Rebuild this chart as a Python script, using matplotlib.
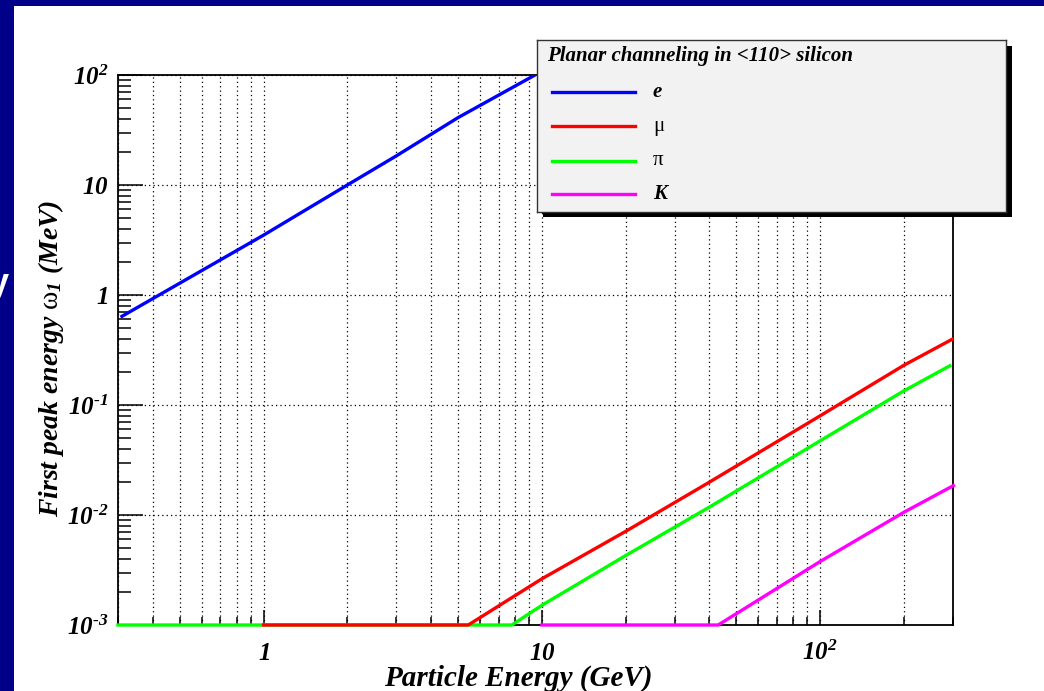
import matplotlib
matplotlib.use("Agg")
import matplotlib.pyplot as plt
import matplotlib.ticker as ticker
from matplotlib.patches import Rectangle

plt.rcParams['mathtext.fontset'] = 'custom'
plt.rcParams['mathtext.rm'] = 'Liberation Serif:bold:italic'
plt.rcParams['mathtext.it'] = 'Liberation Serif:bold:italic'
plt.rcParams['mathtext.bf'] = 'Liberation Serif:bold:italic'
plt.rcParams['mathtext.sf'] = 'Liberation Serif'

# first peak energy (MeV) vs particle energy (GeV), floor values sit at 1e-3
e_energy = [0.31, 1.0, 2.0, 3.0, 5.0, 9.45]
e_peak = [0.64, 3.5, 10.0, 18.4, 41.0, 100.0]

mu_energy = [1.0, 5.44, 10.0, 20.0, 40.0, 100.0, 200.0, 298.0]
mu_peak = [1e-3, 1e-3, 0.00263, 0.0071, 0.0199, 0.0798, 0.230, 0.396]

pi_energy = [0.3, 7.8, 10.0, 20.0, 40.0, 100.0, 200.0, 292.0]
pi_peak = [1e-3, 1e-3, 0.00151, 0.00428, 0.0118, 0.0473, 0.1346, 0.227]

k_energy = [10.0, 43.0, 100.0, 200.0, 301.0]
k_peak = [1e-3, 1e-3, 0.00378, 0.0106, 0.0185]

legend_labels = ['e', 'μ', 'π', 'K']
legend_colors = ['#0000ff', '#ff0000', '#00ff00', '#ff00ff']

x_ticks = [1, 10, 100]
x_ticklabels = [r'$1$', r'$10$', r'$10^{2}$']
y_ticks = [1e-3, 1e-2, 1e-1, 1, 10, 100]
y_ticklabels = [r'$10^{\text{-}3}$', r'$10^{\text{-}2}$', r'$10^{\text{-}1}$', r'$1$', r'$10$', r'$10^{2}$']

W, H = 1044, 691


def fig_box(x0, y0, x1, y1):
    # pixel box (top-left origin) -> figure fraction rect
    return [x0 / W, (H - y1) / H, (x1 - x0) / W, (y1 - y0) / H]


fig = plt.figure(figsize=(W / 100, H / 100), dpi=100)
fig.patch.set_facecolor('#000088')

fig.patches.append(Rectangle((14 / W, 0), 1 - 14 / W, (H - 6) / H, transform=fig.transFigure,
                             facecolor='white', edgecolor='none', zorder=-1))
fig.text(9 / W, (H - 294) / H, 'y', color='white', fontsize=26, fontweight='bold',
         family='Liberation Sans', ha='right', va='baseline')

ax = fig.add_axes(fig_box(118, 75, 953, 625))
ax.set_xscale('log')
ax.set_yscale('log')
ax.set_xlim(0.3, 300)
ax.set_ylim(1e-3, 100)

ax.plot(e_energy, e_peak, color=legend_colors[0], lw=2.4, zorder=3)
ax.plot(pi_energy, pi_peak, color=legend_colors[2], lw=2.4, zorder=3, clip_on=False)
ax.plot(mu_energy, mu_peak, color=legend_colors[1], lw=2.4, zorder=3, clip_on=False)
ax.plot(k_energy, k_peak, color=legend_colors[3], lw=2.4, zorder=3, clip_on=False)

ax.set_xticks(x_ticks)
ax.set_xticklabels(x_ticklabels)
ax.set_yticks(y_ticks)
ax.set_yticklabels(y_ticklabels)
ax.xaxis.set_minor_locator(ticker.LogLocator(base=10, subs=range(2, 10), numticks=20))
ax.yaxis.set_minor_locator(ticker.LogLocator(base=10, subs=range(2, 10), numticks=20))
ax.xaxis.set_minor_formatter(ticker.NullFormatter())
ax.yaxis.set_minor_formatter(ticker.NullFormatter())

ax.tick_params(axis='both', which='both', direction='in', width=1.1, colors='black',
               labelsize=18, top=False, right=False)
ax.tick_params(axis='x', which='major', length=11, pad=25)
ax.tick_params(axis='x', which='minor', length=5.5)
ax.tick_params(axis='y', which='major', length=18, pad=7)
ax.tick_params(axis='y', which='minor', length=9.5)
for lab in ax.get_xticklabels():
    lab.set_verticalalignment('baseline')

ax.grid(True, axis='x', which='both', color='black', linestyle=(0, (1, 2.5)), lw=0.9)
ax.grid(True, axis='y', which='major', color='black', linestyle=(0, (1, 2.5)), lw=0.9)
for sp in ax.spines.values():
    sp.set_linewidth(1.3)

fig.text(518 / W, (H - 686) / H, 'Particle Energy (GeV)', fontsize=21, family='Liberation Serif',
         fontweight='bold', style='italic', ha='center', va='baseline')
fig.text(51 / W, (H - 358) / H, r'First peak energy $\mathsf{\omega}_{1}$ (MeV)', fontsize=20,
         family='Liberation Serif', fontweight='bold', style='italic', rotation=90,
         ha='center', va='center')

# legend box with drop shadow
fig.patches.append(Rectangle((543 / W, (H - 217) / H), 469 / W, 171 / H, transform=fig.transFigure,
                             facecolor='black', edgecolor='none', zorder=1))
lg = fig.add_axes(fig_box(537, 40, 1006, 212), zorder=2)
lg.set_facecolor('#f2f2f2')
lg.set_xlim(0, 1)
lg.set_ylim(0, 1)
lg.set_xticks([])
lg.set_yticks([])
for sp in lg.spines.values():
    sp.set_linewidth(1.0)
    sp.set_color('#333333')
lg.text(0.021, 0.907, 'Planar channeling in <110> silicon', fontsize=15, family='Liberation Serif',
        fontweight='bold', style='italic', ha='left', va='center')
entry_y = [0.70, 0.50, 0.298, 0.103]
for lab, col, yy in zip(legend_labels, legend_colors, entry_y):
    lg.plot([0.032, 0.209], [yy, yy], color=col, lw=2.4)
    if lab in ('e', 'K'):
        lg.text(0.247, yy, lab, fontsize=15, family='Liberation Serif', fontweight='bold',
                style='italic', ha='left', va='center')
    else:
        lg.text(0.247, yy, lab, fontsize=15, family='Liberation Serif', ha='left', va='center')

fig.savefig('out.png', dpi=100, facecolor=fig.get_facecolor())
